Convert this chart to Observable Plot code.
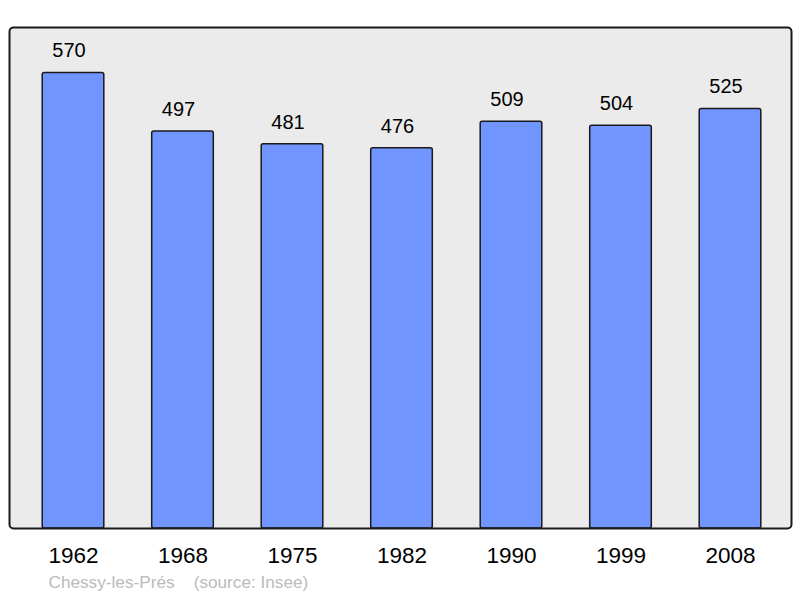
<!DOCTYPE html>
<html><head><meta charset="utf-8">
<script src="https://cdn.jsdelivr.net/npm/d3@7"></script>
<script src="https://cdn.jsdelivr.net/npm/@observablehq/plot@0.6"></script>
<style>body{margin:0;background:#fff;font-family:"Liberation Sans",Arial,sans-serif}</style>
</head><body><div id="chart"></div>
<script>
const years = ["1962","1968","1975","1982","1990","1999","2008"];
const population = [570, 497, 481, 476, 509, 504, 525];
const caption = "Chessy-les-Prés\u00a0\u00a0\u00a0\u00a0(source: Insee)";

const data = years.map((y, i) => ({year: y, pop: population[i]}));

const chart = Plot.plot({
  width: 800,
  height: 598,
  marginTop: 27,
  marginBottom: 70,
  marginLeft: 9,
  marginRight: 9,
  style: {fontFamily: "'Liberation Sans', Arial, sans-serif", background: "#fff"},
  x: {domain: years, range: [9.35, 793.65], paddingInner: 0.4374, paddingOuter: 0.3, round: false, axis: null},
  y: {domain: [0, 627], axis: null},
  marks: [
    Plot.frame({fill: "#ebebeb", stroke: "none", rx: 4}),
    Plot.barY(data, {x: "year", y: "pop", fill: "#7095ff", stroke: "#1a1a1a", strokeWidth: 1.5, rx: 2}),
    Plot.frame({stroke: "#1a1a1a", strokeWidth: 2, rx: 4}),
    Plot.text(data, {x: "year", y: "pop", text: d => String(d.pop), dx: -4.5, dy: -22, fontSize: 20, fill: "#000"}),
    Plot.text(data, {x: "year", text: "year", frameAnchor: "bottom", dy: 34, fontSize: 22.5, fill: "#000"}),
    Plot.text([caption], {frameAnchor: "bottom-left", dx: 39, dy: 59, textAnchor: "start", fontSize: 17.2, fill: "#bbb", text: d => d})
  ]
});
document.getElementById("chart").appendChild(chart);
</script></body></html>
